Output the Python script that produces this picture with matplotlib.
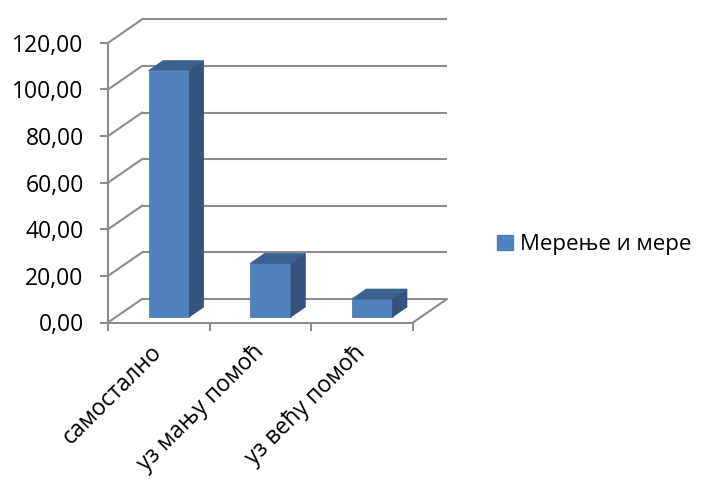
import matplotlib
matplotlib.use("Agg")
import matplotlib.pyplot as plt
from matplotlib.patches import Polygon, Patch
import numpy as np

plt.rcParams['font.family'] = ['Open Sans', 'DejaVu Sans']

categories = ["самостално", "уз мању помоћ", "уз већу помоћ"]
values = [105.7, 23.0, 7.7]
series_name = "Мерење и мере"
yticks = [0, 20, 40, 60, 80, 100, 120]
ytick_labels = ["0,00", "20,00", "40,00", "60,00", "80,00", "100,00", "120,00"]

W, H = 703, 480
fig = plt.figure(figsize=(W / 100, H / 100), dpi=100)

# pixel geometry of the front plane
x0_px, x3_px = 108, 413
y0_px = 322.5
sx = (x3_px - x0_px) / 3.0
sy = 2.33
DXp, DYp = 34, 23.5
DX, DY = DXp / sx, DYp / sy

right_px, top_px = 452, 14
ax = fig.add_axes([x0_px / W, (H - y0_px) / H, (right_px - x0_px) / W, (y0_px - top_px) / H])
ax.set_xlim(0, (right_px - x0_px) / sx)
ax.set_ylim(0, (y0_px - top_px) / sy)
ax.patch.set_visible(False)

grid_c = '#8c8c8c'
lw = 1.5
for s in ['top', 'right']:
    ax.spines[s].set_visible(False)
ax.spines['left'].set_bounds(0, 120)
ax.spines['bottom'].set_bounds(0, 3)
for s in ['left', 'bottom']:
    ax.spines[s].set_color(grid_c)
    ax.spines[s].set_linewidth(lw)

ax.set_yticks(yticks, ytick_labels)
ax.set_xticks([0, 1, 2, 3], ['', '', '', ''])
ax.set_xticks([0.5, 1.5, 2.5], categories, minor=True)
ax.tick_params(axis='y', which='major', length=5.5, width=lw, color=grid_c, pad=12, labelsize=16.5)
ax.tick_params(axis='x', which='major', length=5.5, width=lw, color=grid_c)
ax.tick_params(axis='x', which='minor', length=0, pad=19, labelsize=16.5)
for lab in ax.get_xticklabels(minor=True):
    lab.set_rotation(45)
    lab.set_rotation_mode('anchor')
    lab.set_ha('right')
    lab.set_va('center')

# walls and floor
for v in yticks:
    ax.plot([DX, 3 + DX], [v + DY, v + DY], color=grid_c, lw=lw, zorder=1, solid_capstyle='butt')
    ax.plot([0, DX], [v, v + DY], color=grid_c, lw=lw, zorder=1, clip_on=False)
ax.plot([3, 3 + DX], [0, DY], color=grid_c, lw=lw, zorder=1)

# bars
f0, d = 0.24, 0.42
bw = 0.40
front_c, side_c, top_c = '#4F81BD', '#34547F', '#3B6190'
xc = np.arange(len(categories)) + 0.5 + f0 * DX + 0.02
bottom = f0 * DY
ax.bar(xc, values, width=bw, bottom=bottom, color=front_c, edgecolor='#46729f', linewidth=0.5, zorder=3)
for x, v in zip(xc, values):
    xl, xr = x - bw / 2, x + bw / 2
    top = bottom + v
    side = Polygon([(xr, bottom), (xr + d * DX, bottom + d * DY), (xr + d * DX, top + d * DY), (xr, top)],
                   closed=True, facecolor=side_c, edgecolor='#2f4c73', linewidth=0.5, zorder=3)
    topf = Polygon([(xl, top), (xl + d * DX, top + d * DY), (xr + d * DX, top + d * DY), (xr, top)],
                   closed=True, facecolor=top_c, edgecolor='#35598a', linewidth=0.5, zorder=3)
    ax.add_patch(side)
    ax.add_patch(topf)

fig.legend(handles=[Patch(facecolor=front_c, edgecolor=front_c)], labels=[series_name],
           loc='center left', bbox_to_anchor=(497 / W, 1 - 245 / H), frameon=False,
           borderaxespad=0, borderpad=0,
           handlelength=0.7, handleheight=0.7, handletextpad=0.35, fontsize=16)

fig.savefig('out.png', dpi=100)
